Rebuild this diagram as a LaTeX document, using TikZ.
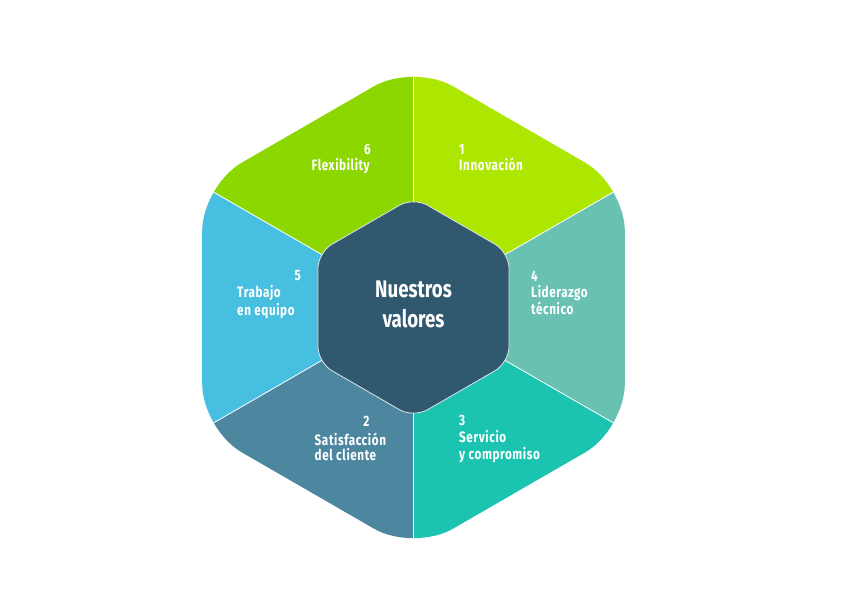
\documentclass[tikz,border=0pt]{standalone}
\usepackage{fontspec}
\setmainfont{Fira Sans}[FakeStretch=0.78]
\newfontfamily\lblfont{Fira Sans}[FakeStretch=0.78, LetterSpace=4]
\usetikzlibrary{calc}
\definecolor{cOne}{HTML}{ADE600}
\definecolor{cSix}{HTML}{8DD700}
\definecolor{cFour}{HTML}{69C1B2}
\definecolor{cThree}{HTML}{1BC4B0}
\definecolor{cTwo}{HTML}{4D879F}
\definecolor{cFive}{HTML}{47BFE0}
\definecolor{cCore}{HTML}{30596F}
\tikzset{
  lbl/.style={text=white, font=\lblfont\bfseries\fontsize{15}{17}\selectfont, inner sep=0pt},
  big/.style={text=white, font=\bfseries\fontsize{24}{30}\selectfont, inner sep=0pt},
  divline/.style={draw=white, line width=0.8pt},
  corehex/.style={fill=cCore, draw=white!85!cCore, line width=0.8pt, rounded corners=16pt}
}
\begin{document}
\begin{tikzpicture}[x=1pt,y=-1pt]
\useasboundingbox (0,0) rectangle (842,596);
\coordinate (C) at (413.5,307.5);
\foreach \i/\a in {1/-90,2/-30,3/30,4/90,5/150,6/210} {
  \coordinate (O\i) at ($(C)+(\a:244)$);
  \coordinate (I\i) at ($(C)+(\a:110.3)$);
  \coordinate (F\i) at ($(C)+(\a:400)$);
}
\coordinate (OM) at ($(O1)!0.5!(O2)$);
\coordinate (IM) at ($(I1)!0.5!(I2)$);
\begin{scope}
  \clip[rounded corners=45.6pt] (OM) -- (O2) -- (O3) -- (O4) -- (O5) -- (O6) -- (O1) -- cycle;
  \fill[cOne]   (C) -- (F1) -- (F2) -- cycle;
  \fill[cFour]  (C) -- (F2) -- (F3) -- cycle;
  \fill[cThree] (C) -- (F3) -- (F4) -- cycle;
  \fill[cTwo]   (C) -- (F4) -- (F5) -- cycle;
  \fill[cFive]  (C) -- (F5) -- (F6) -- cycle;
  \fill[cSix]   (C) -- (F6) -- (F1) -- cycle;
  \foreach \i in {1,...,6} \draw[divline] (C) -- (F\i);
\end{scope}
\path[corehex] (IM) -- (I2) -- (I3) -- (I4) -- (I5) -- (I6) -- (I1) -- cycle;
\node[lbl, anchor=base west] (n1) at (459,154) {1};
\node[lbl, anchor=base west] (t1) at (459,171) {Innovación};
\node[lbl, anchor=base east] (n6) at (371,154) {6};
\node[lbl, anchor=base east] (t6) at (370,171) {Flexibility};
\node[lbl, anchor=base west] (n4) at (531,281) {4};
\node[lbl, anchor=base west] (t4a) at (531,297.5) {Liderazgo};
\node[lbl, anchor=base west] (t4b) at (531,314) {técnico};
\node[lbl, anchor=base west] (n3) at (459,425) {3};
\node[lbl, anchor=base west] (t3a) at (459,442.5) {Servicio};
\node[lbl, anchor=base west] (t3b) at (459,459) {y compromiso};
\node[lbl, anchor=base east] (n2) at (369.5,426.5) {2};
\node[lbl, anchor=base west] (t2a) at (314.5,445.5) {Satisfacción};
\node[lbl, anchor=base west] (t2b) at (314.5,460.5) {del cliente};
\node[lbl, anchor=base east] (n5) at (301,280.5) {5};
\node[lbl, anchor=base west] (t5a) at (237,297) {Trabajo};
\node[lbl, anchor=base west] (t5b) at (237,315) {en equipo};
\node[big, anchor=base] (c1) at (413.5,297) {Nuestros};
\node[big, anchor=base] (c2) at (413.5,327.5) {valores};
\end{tikzpicture}
\end{document}
